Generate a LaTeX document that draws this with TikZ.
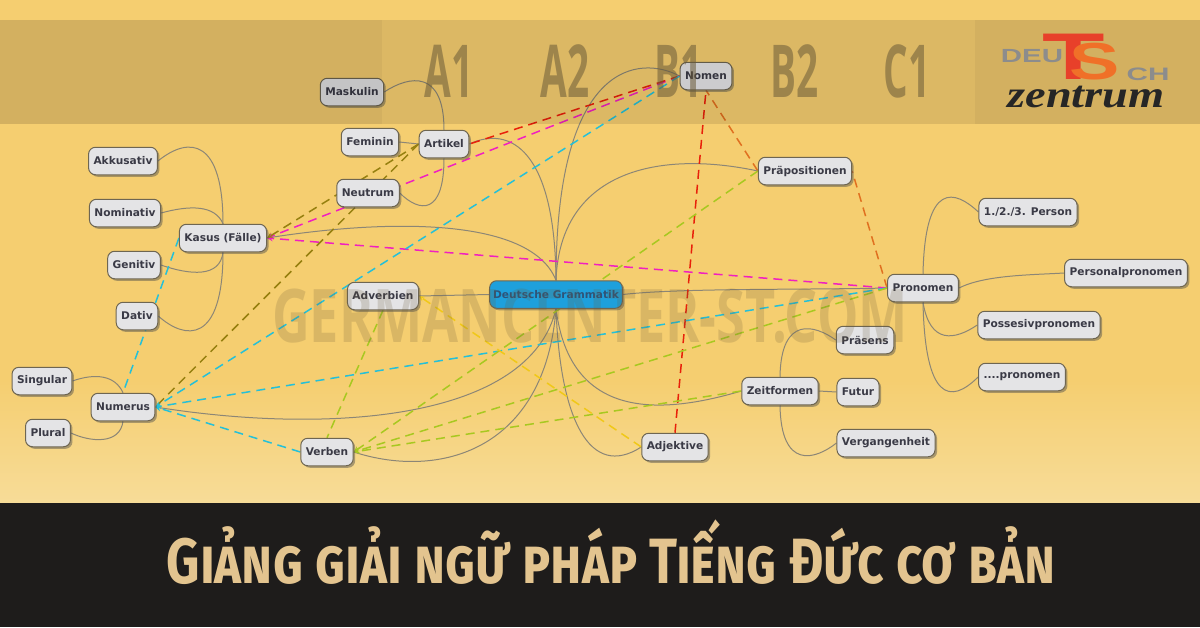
\documentclass[tikz,border=0pt]{standalone}
\usepackage{fontspec}
\setmainfont{DejaVu Sans}
\newfontfamily\levelfont[FakeStretch=0.53]{Open Sans}
\newfontfamily\markfont[FakeStretch=0.705]{Open Sans}
\newfontfamily\titlefont[Letters=SmallCaps,FakeStretch=0.81]{Fira Sans}
\newfontfamily\logofont{Liberation Sans}
\newfontfamily\zentrumfont{Liberation Serif}
\usetikzlibrary{calc, shapes, arrows, shadows, backgrounds}
\definecolor{sand}{HTML}{F5CE70}
\definecolor{paleSand}{HTML}{F7DC98}
\definecolor{footer}{HTML}{1E1C1B}
\definecolor{titleInk}{HTML}{E3C48F}
\definecolor{wire}{HTML}{8C8676}
\definecolor{boxFill}{HTML}{E4E4E6}
\definecolor{boxEdge}{HTML}{6E6652}
\definecolor{boxInk}{HTML}{3A3A46}
\definecolor{rootFill}{HTML}{1EA0DC}
\definecolor{rootInk}{HTML}{2F5478}
\definecolor{magentaLine}{HTML}{F020C0}
\definecolor{oliveLine}{HTML}{96800F}
\definecolor{redLine}{HTML}{E8200A}
\definecolor{orangeLine}{HTML}{E07020}
\definecolor{cyanLine}{HTML}{25C0D8}
\definecolor{greenLine}{HTML}{A8C820}
\definecolor{yellowLine}{HTML}{F0C818}
\definecolor{levelInk}{HTML}{6A5A38}
\definecolor{logoRed}{HTML}{E8402A}
\definecolor{logoOrange}{HTML}{F07028}

\begin{document}
\begin{tikzpicture}[x=1pt,y=-1pt]
\tikzstyle{topic}=[draw=boxEdge,line width=1pt,rounded corners=7pt,fill=boxFill,text=boxInk,
  font=\fontsize{10.6}{13}\selectfont\bfseries,minimum height=27.5pt,inner xsep=5pt,inner ysep=2pt,
  drop shadow={shadow xshift=2pt,shadow yshift=-2pt,opacity=0.45,fill=black!70}]
\tikzstyle{root}=[topic,fill=rootFill,text=rootInk,inner xsep=3.5pt]
\tikzstyle{wired}=[draw=wire,line width=1pt]
\tikzstyle{link}=[line width=1.5pt,dash pattern=on 9pt off 6pt,>=stealth]
\tikzstyle{level}=[font=\levelfont\bfseries\fontsize{73}{80}\selectfont,text=levelInk,opacity=0.55]

\useasboundingbox (0,0) rectangle (1200,627);
\begin{pgfonlayer}{background}
\fill[sand] (0,0) rectangle (1200,381);
\shade[top color=sand,bottom color=paleSand] (0,380) rectangle (1200,503);
\fill[footer] (0,503) rectangle (1200,627);
\end{pgfonlayer}

\node[root] (Grammatik) at (556,294.5) {Deutsche Grammatik};
\node[topic] (Kasus) at (223,238) {Kasus (Fälle)};
\node[topic] (Akkusativ) at (123,161) {Akkusativ};
\node[topic] (Nominativ) at (125,213) {Nominativ};
\node[topic] (Genitiv) at (134,265) {Genitiv};
\node[topic] (Dativ) at (137,316) {Dativ};
\node[topic] (Numerus) at (123,407) {Numerus};
\node[topic] (Singular) at (42,381) {Singular};
\node[topic] (Plural) at (48,433) {Plural};
\node[topic] (Verben) at (327,452) {Verben};
\node[topic] (Adverbien) at (383,296) {Adverbien};
\node[topic] (Maskulin) at (352,92) {Maskulin};
\node[topic] (Feminin) at (370,142) {Feminin};
\node[topic] (Neutrum) at (368,193) {Neutrum};
\node[topic] (Artikel) at (444,144) {Artikel};
\node[topic] (Nomen) at (706,76) {Nomen};
\node[topic] (Praep) at (805,171) {Präpositionen};
\node[topic] (Pronomen) at (923,288) {Pronomen};
\node[topic] (Personal) at (1126,273) {Personalpronomen};
\node[topic] (Person) at (1028,212) {1./2./3. Person};
\node[topic] (Possesiv) at (1039,325) {Possesivpronomen};
\node[topic] (Dots) at (1022,377) {....pronomen};
\node[topic] (Praesens) at (865,340) {Präsens};
\node[topic] (Futur) at (858,392) {Futur};
\node[topic] (Vergangen) at (886,443) {Vergangenheit};
\node[topic] (Zeitformen) at (780,391) {Zeitformen};
\node[topic] (Adjektive) at (675,447) {Adjektive};

\begin{pgfonlayer}{background}
\draw[wired] (Grammatik.north) .. controls (556,60) and (640,55) .. (Nomen.west);
\draw[wired] (Artikel.east) .. controls (510,125) and (555,150) .. (Grammatik.north);
\draw[wired] (Grammatik.north) .. controls (560,170) and (660,150) .. (Praep.west);
\draw[wired] (Kasus.east) .. controls (380,220) and (530,215) .. (Grammatik.north);
\draw[wired] (Grammatik.west) -- (Adverbien.east);
\draw[wired] (Grammatik.east) .. controls (680,288) and (800,290) .. (Pronomen.west);
\draw[wired] (Numerus.east) .. controls (330,435) and (530,420) .. (Grammatik.south);
\draw[wired] (Verben.east) .. controls (440,480) and (545,450) .. (Grammatik.south);
\draw[wired] (Grammatik.south) .. controls (560,420) and (590,480) .. (Adjektive.west);
\draw[wired] (Grammatik.south) .. controls (570,420) and (660,415) .. (Zeitformen.west);
\draw[wired] (Akkusativ.east) .. controls (190,135) and (223,140) .. (Kasus.north);
\draw[wired] (Nominativ.east) .. controls (190,205) and (215,205) .. (Kasus.north);
\draw[wired] (Genitiv.east) .. controls (190,275) and (220,278) .. (Kasus.south);
\draw[wired] (Dativ.east) .. controls (185,340) and (223,345) .. (Kasus.south);
\draw[wired] (Singular.east) .. controls (95,373) and (115,375) .. (Numerus.north);
\draw[wired] (Plural.east) .. controls (90,442) and (120,445) .. (Numerus.south);
\draw[wired] (Maskulin.east) .. controls (410,75) and (444,70) .. (Artikel.north);
\draw[wired] (Feminin.east) -- (Artikel.west);
\draw[wired] (Neutrum.east) .. controls (420,213) and (444,215) .. (Artikel.south);
\draw[wired] (Praesens.west) .. controls (815,325) and (781,315) .. (Zeitformen.north);
\draw[wired] (Zeitformen.east) -- (Futur.west);
\draw[wired] (Vergangen.west) .. controls (815,460) and (781,470) .. (Zeitformen.south);
\draw[wired] (Person.west) .. controls (955,190) and (925,180) .. (Pronomen.north);
\draw[wired] (Pronomen.east) .. controls (985,275) and (1030,275) .. (Personal.west);
\draw[wired] (Possesiv.west) .. controls (955,340) and (930,345) .. (Pronomen.south);
\draw[wired] (Dots.west) .. controls (950,405) and (925,400) .. (Pronomen.south);

\draw[link,magentaLine,->] (Nomen.west) -- (Kasus.east);
\draw[link,magentaLine,->] (Pronomen.west) -- (Kasus.east);
\draw[link,oliveLine,->] (Artikel.west) -- (Kasus.east);
\draw[link,oliveLine] (Artikel.west) -- (Numerus.east);
\draw[link,redLine] (Nomen.west) -- (Artikel.east);
\draw[link,redLine] (Adjektive.north) -- (Nomen.south);
\draw[link,orangeLine] (Praep.west) -- (Nomen.south);
\draw[link,orangeLine] (Pronomen.west) -- (Praep.east);
\draw[link,cyanLine,->] (Nomen.west) -- (Numerus.east);
\draw[link,cyanLine,->] (Pronomen.west) -- (Numerus.east);
\draw[link,cyanLine,->] (Verben.west) -- (Numerus.east);
\draw[link,cyanLine] (Kasus.west) -- (Numerus.north);
\draw[link,greenLine,->] (Praep.west) -- (Verben.east);
\draw[link,greenLine,->] (Pronomen.west) -- (Verben.east);
\draw[link,greenLine,->] (Zeitformen.west) -- (Verben.east);
\draw[link,greenLine] (Adverbien.south) -- (Verben.north);
\draw[link,yellowLine,->] (Adjektive.west) -- (Adverbien.east);
\end{pgfonlayer}

\fill[black,opacity=0.1] (0,20) rectangle (1200,124);
\fill[black,opacity=0.04] (0,20) rectangle (382,124);
\fill[black,opacity=0.04] (975,20) rectangle (1200,124);

\node[level] (A_1) at (449,71) {A1};
\node[level] (A_2) at (565,71) {A2};
\node[level] (B_1) at (679,71) {B1};
\node[level] (B_2) at (795,71) {B2};
\node[level] (C_1) at (907,71) {C1};
\node[font=\markfont\bfseries\fontsize{74}{80}\selectfont,text=levelInk,opacity=0.2] (Mark) at (590,316) {GERMANCENTER-ST.COM};

\node[font=\logofont\bfseries\fontsize{19}{20}\selectfont,text=black!45,xscale=1.55] (Deu) at (1032,56) {DEU};
\node[font=\logofont\bfseries\fontsize{18}{20}\selectfont,text=black!45,xscale=1.65] (Ch) at (1148,74) {CH};
\node[font=\logofont\bfseries\fontsize{66}{70}\selectfont,text=logoRed,xscale=1.55] (LogoT) at (1074,57) {T};
\node[font=\logofont\bfseries\fontsize{52}{60}\selectfont,text=logoOrange,xscale=1.45] (LogoS) at (1095,62) {S};
\node[font=\zentrumfont\bfseries\itshape\fontsize{38}{44}\selectfont,text=black!85,xscale=1.22] (Zentrum) at (1086,97) {zentrum};

\node[anchor=base,font=\titlefont\bfseries\fontsize{64}{70}\selectfont,text=titleInk] (Title) at (611,583) {Giảng giải ngữ pháp Tiếng Đức cơ bản};
\end{tikzpicture}
\end{document}
